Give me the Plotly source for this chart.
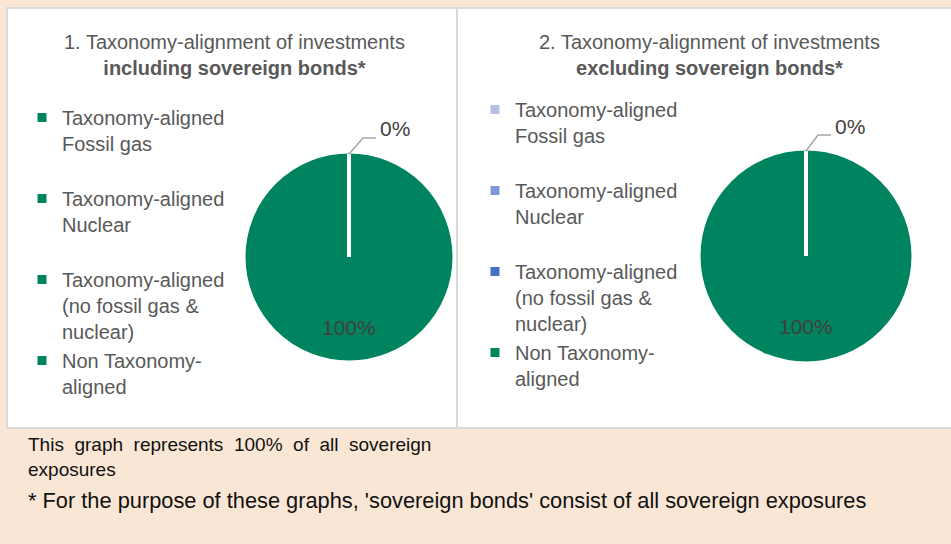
import math
import plotly.graph_objects as go

W, H = 951, 544

# ---- data ----
categories = [
    "Taxonomy-aligned<br>Fossil gas<br> ",
    "Taxonomy-aligned<br>Nuclear<br> ",
    "Taxonomy-aligned<br>(no fossil gas &<br>nuclear)",
    "Non Taxonomy-<br>aligned",
]
incl_values = [0, 0, 0, 100]
excl_values = [0, 0, 0, 100]
incl_colors = ["#00845F", "#00845F", "#00845F", "#00845F"]
excl_colors = ["#B4C1E4", "#7E99D8", "#4472C4", "#00845F"]
titles = [
    "1. Taxonomy-alignment of investments<br><b>including sovereign bonds*</b>",
    "2. Taxonomy-alignment of investments<br><b>excluding sovereign bonds*</b>",
]
note1 = "This\u00a0 graph\u00a0 represents\u00a0 100%\u00a0 of\u00a0 all\u00a0 sovereign<br>exposures"
note2 = "* For the purpose of these graphs, 'sovereign bonds' consist of all sovereign exposures"

FONT = "Liberation Sans"
TXT = "#595959"
PEACH = "#FAE6D4"

# pie geometry (pixels)
pies = [dict(cx=349, cy=257, r=103, lx=14, ly=16),
        dict(cx=806, cy=256, r=105, lx=12, ly=16)]


def px_x(x):
    return x / W


def px_y(y):
    return 1 - y / H


fig = go.Figure()
shapes = [
    dict(type="rect", xref="paper", yref="paper", x0=px_x(7), x1=px_x(960),
         y0=px_y(428), y1=px_y(8), fillcolor="white",
         line=dict(color="#D9D9D9", width=2), layer="below"),
    dict(type="line", xref="paper", yref="paper", x0=px_x(457), x1=px_x(457),
         y0=px_y(428), y1=px_y(8), line=dict(color="#D9D9D9", width=2), layer="below"),
]
annotations = []

for i, (vals, cols, leg) in enumerate(
    [(incl_values, incl_colors, "legend"), (excl_values, excl_colors, "legend2")]
):
    g = pies[i]
    rr = g["r"] + 2
    labels = [c + ("\u200b" * i) for c in categories]
    fig.add_trace(
        go.Pie(
            labels=labels,
            values=vals,
            marker=dict(colors=cols, line=dict(color="white", width=3)),
            sort=False,
            direction="clockwise",
            rotation=0,
            textinfo="none",
            legend=leg,
            domain=dict(
                x=[px_x(g["cx"] - rr), px_x(g["cx"] + rr)],
                y=[px_y(g["cy"] + rr), px_y(g["cy"] - rr)],
            ),
            showlegend=True,
        )
    )
    total = sum(vals)
    # slice boundary (zero-width slices) drawn as white separator
    ang = 2 * math.pi * sum(vals[:3]) / total
    ex = g["cx"] + g["r"] * math.sin(ang)
    ey = g["cy"] - g["r"] * math.cos(ang)
    shapes.append(dict(type="line", xref="paper", yref="paper",
                       x0=px_x(g["cx"]), y0=px_y(g["cy"]), x1=px_x(ex), y1=px_y(ey),
                       line=dict(color="white", width=4)))
    # leader line + small value label
    pts = [(ex, ey), (ex + g["lx"], ey - g["ly"]), (ex + g["lx"] + 13, ey - g["ly"])]
    path = "M {} {} L {} {} L {} {}".format(
        px_x(pts[0][0]), px_y(pts[0][1]), px_x(pts[1][0]), px_y(pts[1][1]),
        px_x(pts[2][0]), px_y(pts[2][1]))
    shapes.append(dict(type="path", xref="paper", yref="paper", path=path,
                       line=dict(color="#A6A6A6", width=1.5)))
    annotations.append(dict(text=f"{sum(vals[:3]):.0f}%", x=px_x(pts[2][0] + 2),
                            y=px_y(ey - 25), xref="paper", yref="paper", showarrow=False,
                            xanchor="left", yanchor="middle",
                            font=dict(family=FONT, size=21, color="#404040")))
    annotations.append(dict(text=f"{vals[3] / total * 100:.0f}%", x=px_x(g["cx"]),
                            y=px_y(g["cy"] + 70), xref="paper", yref="paper",
                            showarrow=False, xanchor="center", yanchor="middle",
                            font=dict(family=FONT, size=21, color="#404040")))

for i, t in enumerate(titles):
    cx = [234, 709][i]
    annotations.append(dict(text=t, x=px_x(cx), y=px_y(55), xref="paper", yref="paper",
                            showarrow=False, font=dict(family=FONT, size=20, color=TXT),
                            xanchor="center", yanchor="middle"))

annotations.append(dict(text=note1, x=px_x(26), y=px_y(457), xref="paper", yref="paper",
                        showarrow=False, xanchor="left", yanchor="middle", align="left",
                        font=dict(family=FONT, size=19, color="#111111")))
annotations.append(dict(text=note2, x=px_x(26), y=px_y(500), xref="paper", yref="paper",
                        showarrow=False, xanchor="left", yanchor="middle", align="left",
                        font=dict(family=FONT, size=21.8, color="#111111")))

leg_common = dict(font=dict(family=FONT, size=20, color=TXT), bgcolor="rgba(0,0,0,0)",
                  xanchor="left", yanchor="top", valign="top", itemclick=False,
                  itemdoubleclick=False, tracegroupgap=0)

fig.update_layout(
    width=W, height=H, autosize=False,
    margin=dict(l=0, r=0, t=0, b=0),
    paper_bgcolor=PEACH, plot_bgcolor=PEACH,
    shapes=shapes, annotations=annotations,
    legend=dict(x=px_x(22), y=px_y(98), **leg_common),
    legend2=dict(x=px_x(475), y=px_y(90), **leg_common),
)

fig.write_html("out.html", config={"displayModeBar": False},
               post_script="document.body.style.margin='0';")
